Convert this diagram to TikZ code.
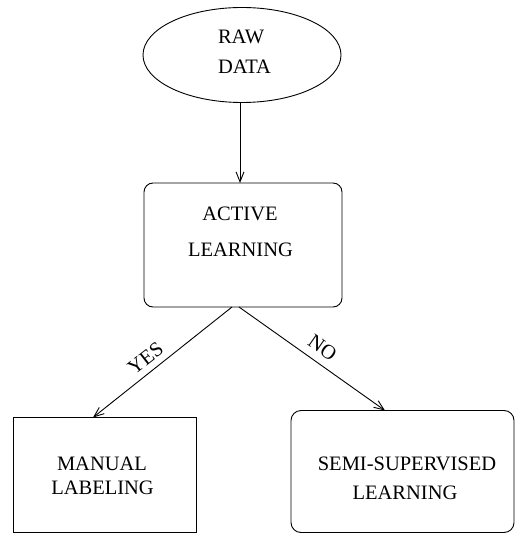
\documentclass[tikz,border=0pt]{standalone}
\usepackage{fontspec}
\setmainfont{Liberation Serif}
\usetikzlibrary{arrows.meta,shapes.geometric}
\begin{document}
\begin{tikzpicture}[x=1pt,y=-1pt,
  every node/.style={inner sep=0pt, outer sep=0pt},
  shapeline/.style={draw, line width=0.9pt},
  arr/.style={line width=0.9pt, -{Straight Barb[length=10pt,width=8pt]}},
  txt/.style={font=\fontsize{20.5}{24}\selectfont, anchor=base},
  lbl/.style={font=\fontsize{20.5}{24}\selectfont},
]
\useasboundingbox (0,0) rectangle (515,534);

% shapes
\node[shapeline, ellipse, minimum width=198, minimum height=95] (raw) at (242,55) {};
\node[shapeline, rectangle, rounded corners=9pt, minimum width=198, minimum height=124] (active) at (243,245) {};
\node[shapeline, rectangle, minimum width=183, minimum height=115] (manual) at (104.5,475) {};
\node[shapeline, rectangle, rounded corners=10pt, minimum width=223, minimum height=122] (semi) at (402.5,471.5) {};

% texts
\node[txt, anchor=base west] (rawA) at (218,44) {RAW};
\node[txt, anchor=base west] (rawB) at (218,74) {DATA};
\node[txt] (actA) at (240,220.7) {ACTIVE};
\node[txt] (actB) at (240.5,256) {LEARNING};
\node[txt] (manA) at (102,470.7) {MANUAL};
\node[txt] (manB) at (102.5,494) {LABELING};
\node[txt] (semA) at (407,470) {SEMI-SUPERVISED};
\node[txt] (semB) at (405,499) {LEARNING};

% connectors
\draw[arr] ([xshift=-2pt]raw.south) -- ([xshift=-3pt]active.north);
\draw[arr] ([xshift=-11pt]active.south) -- ([xshift=-11.5pt]manual.north);
\draw[arr] ([xshift=-4pt]active.south) -- ([xshift=-17.5pt]semi.north);

% branch labels
\node[lbl, rotate=38] (yes) at (145.5,358) {YES};
\node[lbl, rotate=-35] (no) at (322.5,348) {NO};
\end{tikzpicture}
\end{document}
